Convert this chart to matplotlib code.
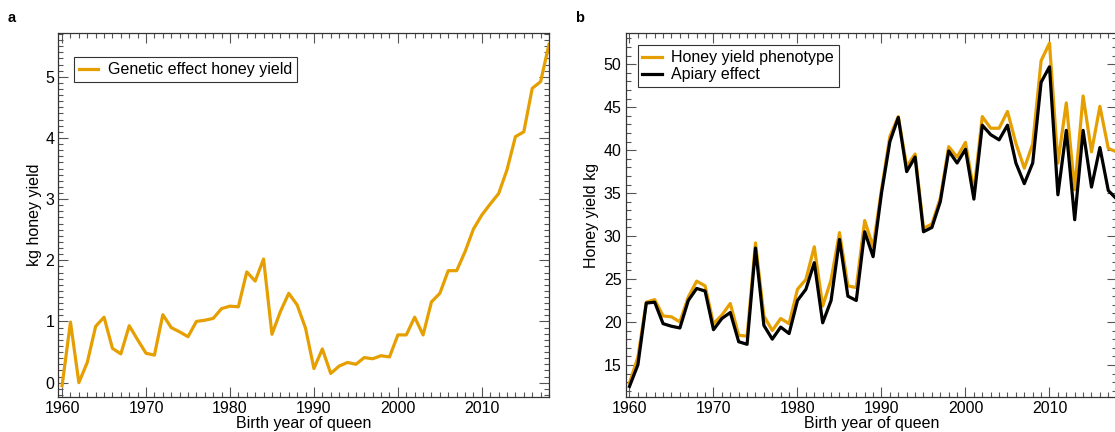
import numpy as np
import matplotlib
matplotlib.use('Agg')
import matplotlib.pyplot as plt
from matplotlib.ticker import MultipleLocator

plt.rcParams['font.family'] = ['Liberation Sans', 'DejaVu Sans']
plt.rcParams['font.size'] = 11.5

years = list(range(1960, 2019))

# panel a: genetic trend (kg)
genetic = [-0.05, 0.99, 0.00, 0.33, 0.92, 1.07, 0.56, 0.47, 0.93, 0.70,
           0.48, 0.45, 1.11, 0.90, 0.83, 0.75, 1.00, 1.02, 1.05, 1.21,
           1.25, 1.24, 1.81, 1.66, 2.02, 0.79, 1.16, 1.46, 1.27, 0.89,
           0.23, 0.55, 0.15, 0.27, 0.33, 0.30, 0.41, 0.39, 0.44, 0.42,
           0.78, 0.78, 1.07, 0.78, 1.32, 1.46, 1.83, 1.83, 2.14, 2.51,
           2.74, 2.92, 3.09, 3.48, 4.02, 4.10, 4.81, 4.92, 5.53]

# panel b: phenotype and apiary effect (kg)
phenotype = [12.9, 15.9, 22.3, 22.6, 20.7, 20.6, 20.0, 22.9, 24.75, 24.2,
             19.8, 20.8, 22.15, 18.45, 18.35, 29.2, 20.7, 19.0, 20.4, 19.8,
             23.8, 24.95, 28.75, 21.85, 24.9, 30.4, 24.2, 24.0, 31.8, 28.75,
             35.4, 41.6, 43.9, 38.1, 39.55, 30.9, 31.4, 34.4, 40.4, 39.2,
             40.9, 35.2, 43.9, 42.55, 42.55, 44.5, 40.8, 37.9, 40.7, 50.4,
             52.45, 38.5, 45.5, 35.4, 46.3, 39.8, 45.1, 40.2, 39.8]
apiary = [12.5, 15.0, 22.2, 22.3, 19.8, 19.5, 19.3, 22.5, 23.9, 23.6,
          19.1, 20.4, 21.1, 17.7, 17.4, 28.6, 19.6, 18.0, 19.4, 18.65,
          22.5, 23.8, 26.9, 19.9, 22.5, 29.6, 23.0, 22.5, 30.5, 27.6,
          35.0, 41.0, 43.8, 37.5, 39.2, 30.5, 31.0, 34.0, 39.9, 38.5,
          40.1, 34.3, 42.9, 41.8, 41.2, 42.9, 38.5, 36.1, 38.5, 47.9,
          49.7, 34.8, 42.3, 31.9, 42.3, 35.7, 40.3, 35.3, 34.3]

orange = '#E69F00'

fig = plt.figure(figsize=(11.15, 4.32), dpi=100)
W, H = 1115.0, 432.0
ax1 = fig.add_axes([58.3 / W, 1 - 396.7 / H, (549.0 - 58.3) / W, (396.7 - 33.3) / H])
ax2 = fig.add_axes([625.7 / W, 1 - 396.7 / H, (1116.7 - 625.7) / W, (396.7 - 33.3) / H])


def style(ax, ymajor, yminor):
    ax.set_xlim(1959.55, 2018.0)
    ax.xaxis.set_major_locator(MultipleLocator(10))
    ax.xaxis.set_minor_locator(MultipleLocator(1))
    ax.yaxis.set_major_locator(MultipleLocator(ymajor))
    ax.yaxis.set_minor_locator(MultipleLocator(yminor))
    ax.tick_params(which='both', direction='in', top=True, right=True,
                   color='#555555', width=0.8, labelsize=11.5, pad=3)
    ax.tick_params(which='major', length=7)
    ax.tick_params(which='minor', length=3.5)
    for s in ax.spines.values():
        s.set_color('#333333')
        s.set_linewidth(0.9)
    ax.set_xlabel('Birth year of queen', labelpad=0)


def legend(ax, dx, dy, **kw):
    # place legend by pixel offset from top-left corner of the axes
    bb = ax.get_position()
    leg = ax.legend(loc='upper left', fancybox=False, edgecolor='#333333',
                    handlelength=1.2, handletextpad=0.6, borderaxespad=0,
                    framealpha=1, borderpad=0.3,
                    bbox_to_anchor=(dx / (bb.width * W), 1 - dy / (bb.height * H)),
                    **kw)
    leg.get_frame().set_linewidth(0.8)


ax1.plot(years, genetic, color=orange, lw=2.3, label='Genetic effect honey yield')
style(ax1, 1, 0.1)
ax1.set_ylim(-0.23, 5.71)
ax1.set_ylabel('kg honey yield', labelpad=2)
legend(ax1, 16, 24)

ax2.plot(years, phenotype, color=orange, lw=2.3, label='Honey yield phenotype')
ax2.plot(years, apiary, color='black', lw=2.3, label='Apiary effect')
style(ax2, 5, 1)
ax2.set_ylabel('Honey yield kg', labelpad=3)
ax2.set_ylim(11.3, 53.6)
legend(ax2, 12, 12, labelspacing=0.15)

fig.text(12 / W, 1 - 18 / H, 'a', fontsize=10.5, fontweight='bold', ha='center', va='center')
fig.text(580 / W, 1 - 18 / H, 'b', fontsize=10.5, fontweight='bold', ha='center', va='center')

fig.savefig('out.png', dpi=100)
